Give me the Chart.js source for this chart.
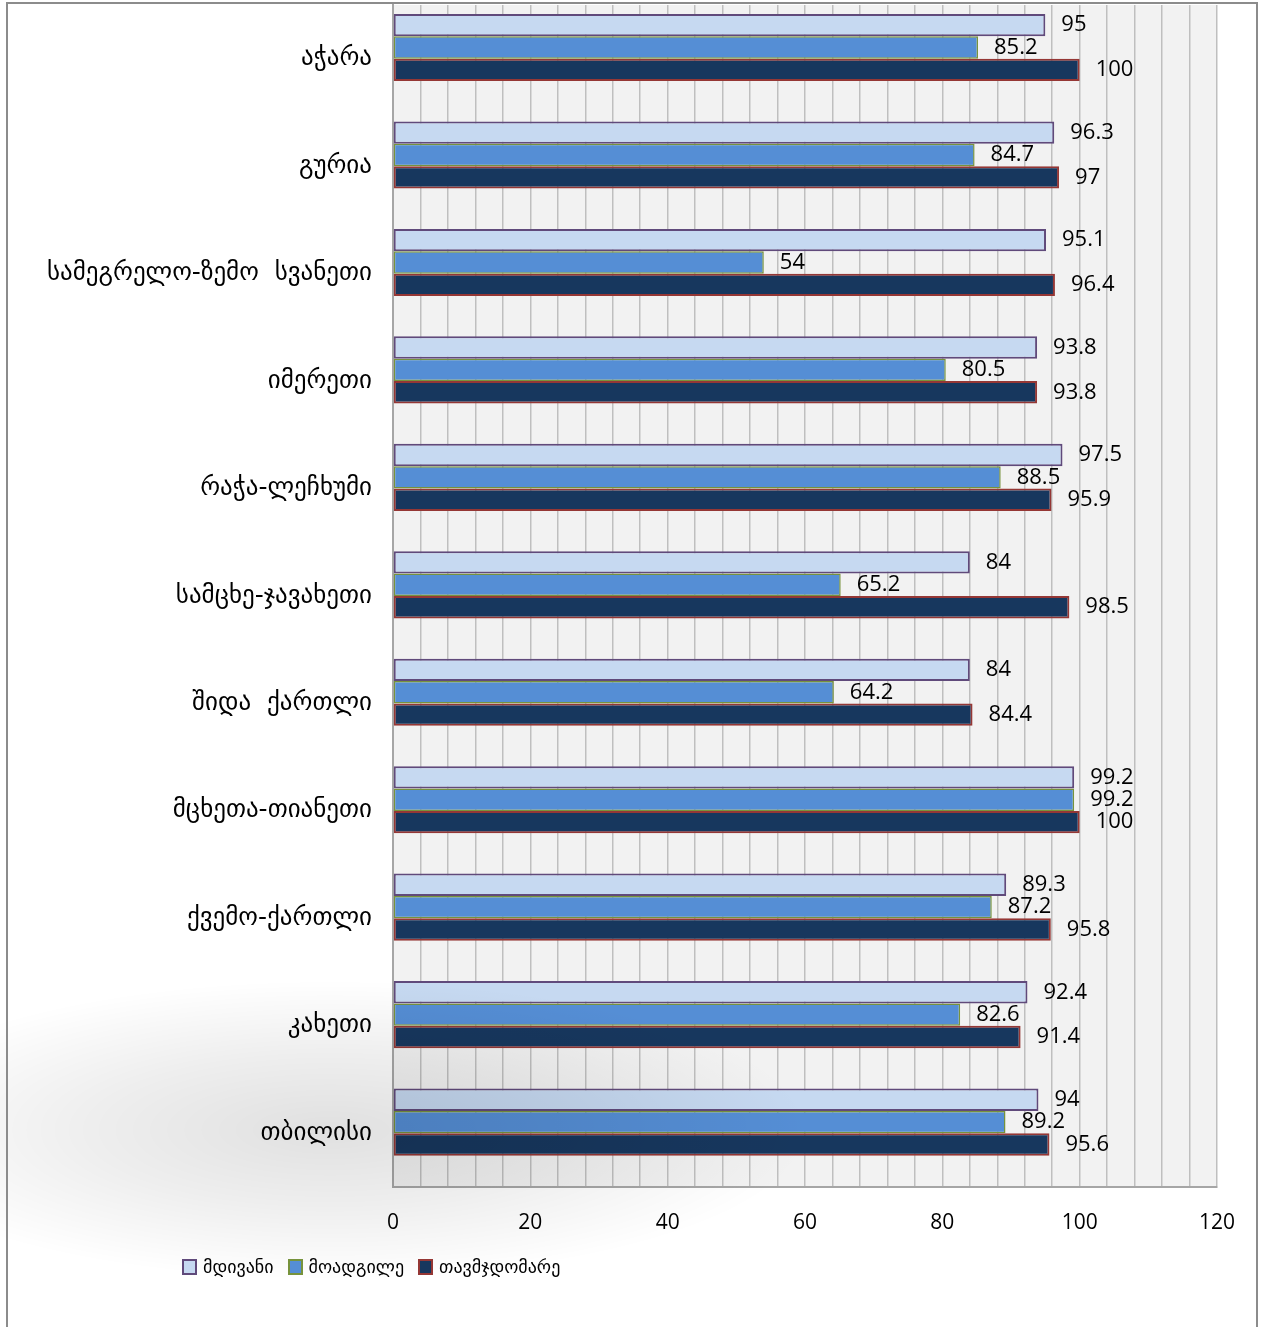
<!DOCTYPE html>
<html>
<head>
<meta charset="utf-8">
<script src="https://cdn.jsdelivr.net/npm/chart.js@4/dist/chart.umd.min.js"></script>
<style>
  html, body { margin: 0; padding: 0; background: #fff; }
  #wrap { position: relative; width: 1265px; height: 1327px; overflow: hidden; }
  #chart { position: absolute; left: 0; top: -10px; }
  #frame { position: absolute; left: 6px; top: 2px; width: 1248px; height: 1400px;
           border: 2px solid #8c8c8c; pointer-events: none; }
  #legend { position: absolute; left: 182px; top: 1256px; display: flex;
            font-family: 'DejaVu Sans', sans-serif; font-size: 18px; color: #000; }
  #legend .item { display: flex; align-items: center; margin-right: 14px; }
  #legend .box { width: 11px; height: 12px; border: 2px solid; margin-right: 6px; }
</style>
</head>
<body>
<div id="wrap">
  <canvas id="chart" width="1265" height="1337"></canvas>
  <div id="frame"></div>
  <div id="legend"></div>
</div>
<script>
const regions = [
  'აჭარა', 'გურია', 'სამეგრელო-ზემო  სვანეთი', 'იმერეთი', 'რაჭა-ლეჩხუმი',
  'სამცხე-ჯავახეთი', 'შიდა  ქართლი', 'მცხეთა-თიანეთი', 'ქვემო-ქართლი', 'კახეთი', 'თბილისი'
];
const seriesNames = ['მდივანი', 'მოადგილე', 'თავმჯდომარე'];
const secretary = [95, 96.3, 95.1, 93.8, 97.5, 84, 84, 99.2, 89.3, 92.4, 94];
const deputy    = [85.2, 84.7, 54, 80.5, 88.5, 65.2, 64.2, 99.2, 87.2, 82.6, 89.2];
const chair     = [100, 97, 96.4, 93.8, 95.9, 98.5, 84.4, 100, 95.8, 91.4, 95.6];
const xLabels = [0, 20, 40, 60, 80, 100, 120];

const fills   = ['#c6d9f1', '#558ed5', '#17375e'];
const borders = ['#604a7b', '#77933c', '#953735'];

const plotBackground = {
  id: 'plotBackground',
  beforeDraw(chart) {
    const { ctx, chartArea: a } = chart;
    ctx.save();
    ctx.fillStyle = '#f2f2f2';
    ctx.fillRect(a.left, a.top, a.right - a.left, a.bottom - a.top);
    ctx.restore();
  },
  afterDraw(chart) {
    // soft grey shadow in the lower left corner
    const ctx = chart.ctx;
    ctx.save();
    ctx.translate(330, 1140);
    ctx.scale(3.2, 1);
    const g = ctx.createRadialGradient(0, 0, 0, 0, 0, 150);
    g.addColorStop(0, 'rgba(0,0,0,0.12)');
    g.addColorStop(0.5, 'rgba(0,0,0,0.065)');
    g.addColorStop(1, 'rgba(0,0,0,0)');
    ctx.fillStyle = g;
    ctx.fillRect(-160, -160, 320, 320);
    ctx.restore();
  }
};

const valueLabels = {
  id: 'valueLabels',
  afterDatasetsDraw(chart) {
    const ctx = chart.ctx;
    ctx.save();
    ctx.font = '22px "Open Sans", sans-serif';
    ctx.fillStyle = '#000';
    ctx.textAlign = 'left';
    ctx.textBaseline = 'middle';
    [0, 1, 2].forEach(i => {
      const meta = chart.getDatasetMeta(i);
      meta.data.forEach((bar, j) => {
        ctx.fillText(String(chart.data.datasets[i].data[j]), bar.x + 16, bar.y);
      });
    });
    ctx.restore();
  }
};

const ds = [secretary, deputy, chair].map((values, i) => ({
  label: seriesNames[i],
  data: values,
  backgroundColor: fills[i],
  borderColor: borders[i],
  borderWidth: i === 1 ? 1.5 : 2,
  borderSkipped: false,
  barPercentage: 1,
  categoryPercentage: 0.833
}));
// empty fourth slot, as in the original spreadsheet chart
ds.push({ label: '', data: [], barPercentage: 1, categoryPercentage: 0.833 });

const chart = new Chart(document.getElementById('chart'), {
  type: 'bar',
  data: { labels: regions, datasets: ds },
  options: {
    indexAxis: 'y',
    responsive: false,
    animation: false,
    devicePixelRatio: 1,
    layout: { padding: { top: 0, right: 48, bottom: 80, left: 0 } },
    plugins: { legend: { display: false }, tooltip: { enabled: false } },
    scales: {
      x: {
        min: 0, max: 120,
        afterFit(scale) { scale.height = 60; },
        ticks: {
          stepSize: 4, autoSkip: false, maxRotation: 0,
          padding: 23, color: '#000',
          font: { family: 'Open Sans', size: 21 },
          callback: v => xLabels.includes(v) ? String(v) : ''
        },
        grid: { color: '#bfbfbf', lineWidth: 1.5, drawTicks: false },
        border: { display: true, color: '#a6a6a6', width: 2 }
      },
      y: {
        afterFit(scale) { scale.width = 393; },
        ticks: {
          padding: 0, color: '#000',
          font: { family: 'DejaVu Sans', size: 25 }
        },
        grid: { display: false, drawTicks: true, tickLength: 21 },
        border: { display: true, color: '#a6a6a6', width: 2 }
      }
    }
  },
  plugins: [plotBackground, valueLabels]
});

const legend = document.getElementById('legend');
seriesNames.forEach((name, i) => {
  const item = document.createElement('div');
  item.className = 'item';
  const box = document.createElement('span');
  box.className = 'box';
  box.style.background = fills[i];
  box.style.borderColor = borders[i];
  item.appendChild(box);
  item.appendChild(document.createTextNode(name));
  legend.appendChild(item);
});
</script>
</body>
</html>
